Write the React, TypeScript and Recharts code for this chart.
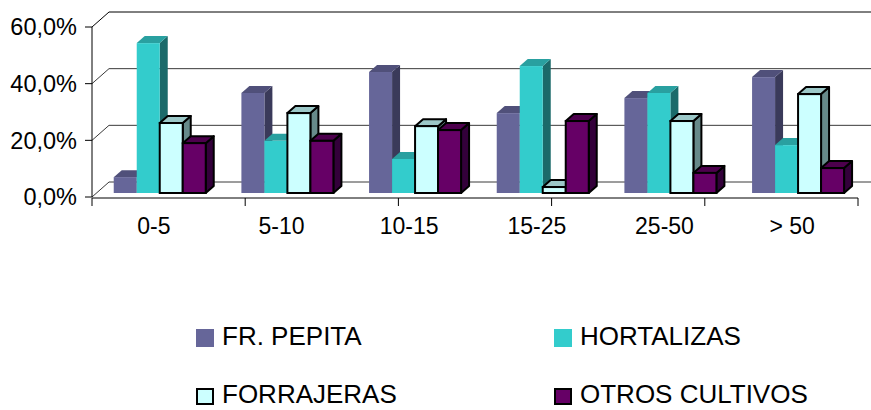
import React from 'react';
import { BarChart, Bar, XAxis, YAxis, CartesianGrid, Legend } from 'recharts';

const categories = ['0-5', '5-10', '10-15', '15-25', '25-50', '> 50'];
const frPepita = [5.6, 35.3, 42.7, 28.2, 33.5, 40.9];
const hortalizas = [52.9, 18.4, 12.0, 44.8, 35.3, 16.9];
const forrajeras = [24.7, 28.2, 23.6, 2.1, 25.4, 34.9];
const otrosCultivos = [17.6, 18.4, 22.2, 25.4, 7.1, 8.8];
const yTicks = [0, 20, 40, 60];
const edgeTicks = [0, 1, 2, 3, 4, 5, 6];
const seriesOrder = ['fr', 'hort', 'forr', 'otros'];

const data = categories.map((c, i) => ({
  cat: c,
  fr: frPepita[i],
  hort: hortalizas[i],
  forr: forrajeras[i],
  otros: otrosCultivos[i],
}));

const seriesStyle: Record<string, any> = {
  fr: { name: 'FR. PEPITA', front: '#666699', top: '#50507a', side: '#3a3a5a', border: false },
  hort: { name: 'HORTALIZAS', front: '#33CCCC', top: '#29a0a0', side: '#1b6a6a', border: false },
  forr: { name: 'FORRAJERAS', front: '#CCFFFF', top: '#9cc8c8', side: '#678a8a', border: true },
  otros: { name: 'OTROS CULTIVOS', front: '#660066', top: '#4d004d', side: '#33003a', border: true },
};

const FONT = '"Liberation Sans", Arial, sans-serif';
const MID_DX = 4.5;
const MID_DY = -4;
const DEPTH_X = 8;
const DEPTH_Y = -7;
const BACK_DX = 17;
const BACK_DY = -15;

const make3DShape = (key: string) => (props: any) => {
  const st = seriesStyle[key];
  const { x, y, width, height } = props;
  if (x == null || y == null) return <g />;
  const sx = x + MID_DX;
  const sy = y + MID_DY;
  const w = width;
  const h = height;
  const stroke = st.border ? '#000' : 'none';
  const sw = st.border ? 2 : 0;
  const topPts = `${sx},${sy} ${sx + w},${sy} ${sx + w + DEPTH_X},${sy + DEPTH_Y} ${sx + DEPTH_X},${sy + DEPTH_Y}`;
  const sidePts = `${sx + w},${sy} ${sx + w + DEPTH_X},${sy + DEPTH_Y} ${sx + w + DEPTH_X},${sy + h + DEPTH_Y} ${sx + w},${sy + h}`;
  return (
    <g>
      <polygon points={sidePts} fill={st.side} stroke={stroke} strokeWidth={sw} strokeLinejoin="round" />
      <polygon points={topPts} fill={st.top} stroke={stroke} strokeWidth={sw} strokeLinejoin="round" />
      <rect x={sx} y={sy} width={w} height={h} fill={st.front} stroke={stroke} strokeWidth={sw} />
    </g>
  );
};

const gridLine = (props: any) => {
  const { x1, y1, x2, index } = props;
  return (
    <polyline
      key={`g-${index}-${y1}`}
      points={`${x1},${y1} ${x1 + BACK_DX},${y1 + BACK_DY} ${x2 + BACK_DX + 20},${y1 + BACK_DY}`}
      fill="none"
      stroke={y1 < 40 ? '#000' : '#3a3a3a'}
      strokeWidth={1}
    />
  );
};

const YTick = (props: any) => {
  const { x, y, payload } = props;
  const label = `${payload.value.toFixed(1).replace('.', ',')}%`;
  return (
    <text x={x} y={y} dy="0.35em" textAnchor="end" fontFamily={FONT} fontSize={23.5} fill="#000">
      {label}
    </text>
  );
};

const XTick = (props: any) => {
  const { x, y, payload } = props;
  return (
    <text x={x - 2} y={y + 37} textAnchor="middle" fontFamily={FONT} fontSize={23} fill="#000">
      {payload.value}
    </text>
  );
};

const renderLegend = (props: any) => {
  const { payload } = props;
  const items = seriesOrder
    .map((k) => payload.find((p: any) => p.dataKey === k))
    .filter(Boolean);
  return (
    <svg width={871} height={110} style={{ display: 'block' }}>
      {items.map((entry: any, i: number) => {
        const st = seriesStyle[entry.dataKey];
        const col = i % 2;
        const row = Math.floor(i / 2);
        const mx = col === 0 ? 196 : 554;
        const my = row === 0 ? 29 : 88;
        const tx = col === 0 ? 222 : 580;
        const ty = row === 0 ? 45 : 103;
        return (
          <g key={`l-${i}`}>
            {st.border ? (
              <rect x={mx + 1} y={my + 1} width={16} height={15} fill={st.front} stroke="#000" strokeWidth={2} />
            ) : (
              <rect x={mx} y={my} width={18} height={18} fill={st.front} />
            )}
            <text x={tx} y={ty} fontFamily={FONT} fontSize={26} fill="#000">
              {st.name}
            </text>
          </g>
        );
      })}
    </svg>
  );
};

export default function App() {
  return (
    <div style={{ position: 'absolute', left: 0, top: 0, background: '#fff' }}>
      <BarChart
        width={871}
        height={410}
        data={data}
        margin={{ top: 27, right: 13, left: 0, bottom: 211 }}
        barCategoryGap="13.5%"
        barGap={0}
      >
        <CartesianGrid vertical={false} horizontal={gridLine} />
        <YAxis
          type="number"
          domain={[0, 60]}
          ticks={yTicks}
          width={92}
          tickSize={7}
          tickMargin={8}
          axisLine={{ stroke: '#000', strokeWidth: 1 }}
          tickLine={{ stroke: '#000', strokeWidth: 1 }}
          tick={<YTick />}
          interval={0}
        />
        <XAxis
          xAxisId="edges"
          type="number"
          domain={[0, 6]}
          ticks={edgeTicks}
          height={1}
          tickSize={8}
          axisLine={{ stroke: '#000', strokeWidth: 1 }}
          tickLine={{ stroke: '#000', strokeWidth: 1 }}
          tickFormatter={() => ''}
          interval={0}
        />
        <XAxis
          dataKey="cat"
          height={1}
          tickSize={0}
          tickMargin={0}
          axisLine={false}
          tickLine={false}
          tick={<XTick />}
          interval={0}
        />
        <Legend
          layout="horizontal"
          verticalAlign="middle"
          align="center"
          wrapperStyle={{ left: 0, top: 300, width: 871 }}
          content={renderLegend}
        />
        <Bar dataKey="fr" name="FR. PEPITA" fill="#666699" isAnimationActive={false} shape={make3DShape('fr')} />
        <Bar dataKey="hort" name="HORTALIZAS" fill="#33CCCC" isAnimationActive={false} shape={make3DShape('hort')} />
        <Bar dataKey="forr" name="FORRAJERAS" fill="#CCFFFF" isAnimationActive={false} shape={make3DShape('forr')} />
        <Bar dataKey="otros" name="OTROS CULTIVOS" fill="#660066" isAnimationActive={false} shape={make3DShape('otros')} />
      </BarChart>
    </div>
  );
}
